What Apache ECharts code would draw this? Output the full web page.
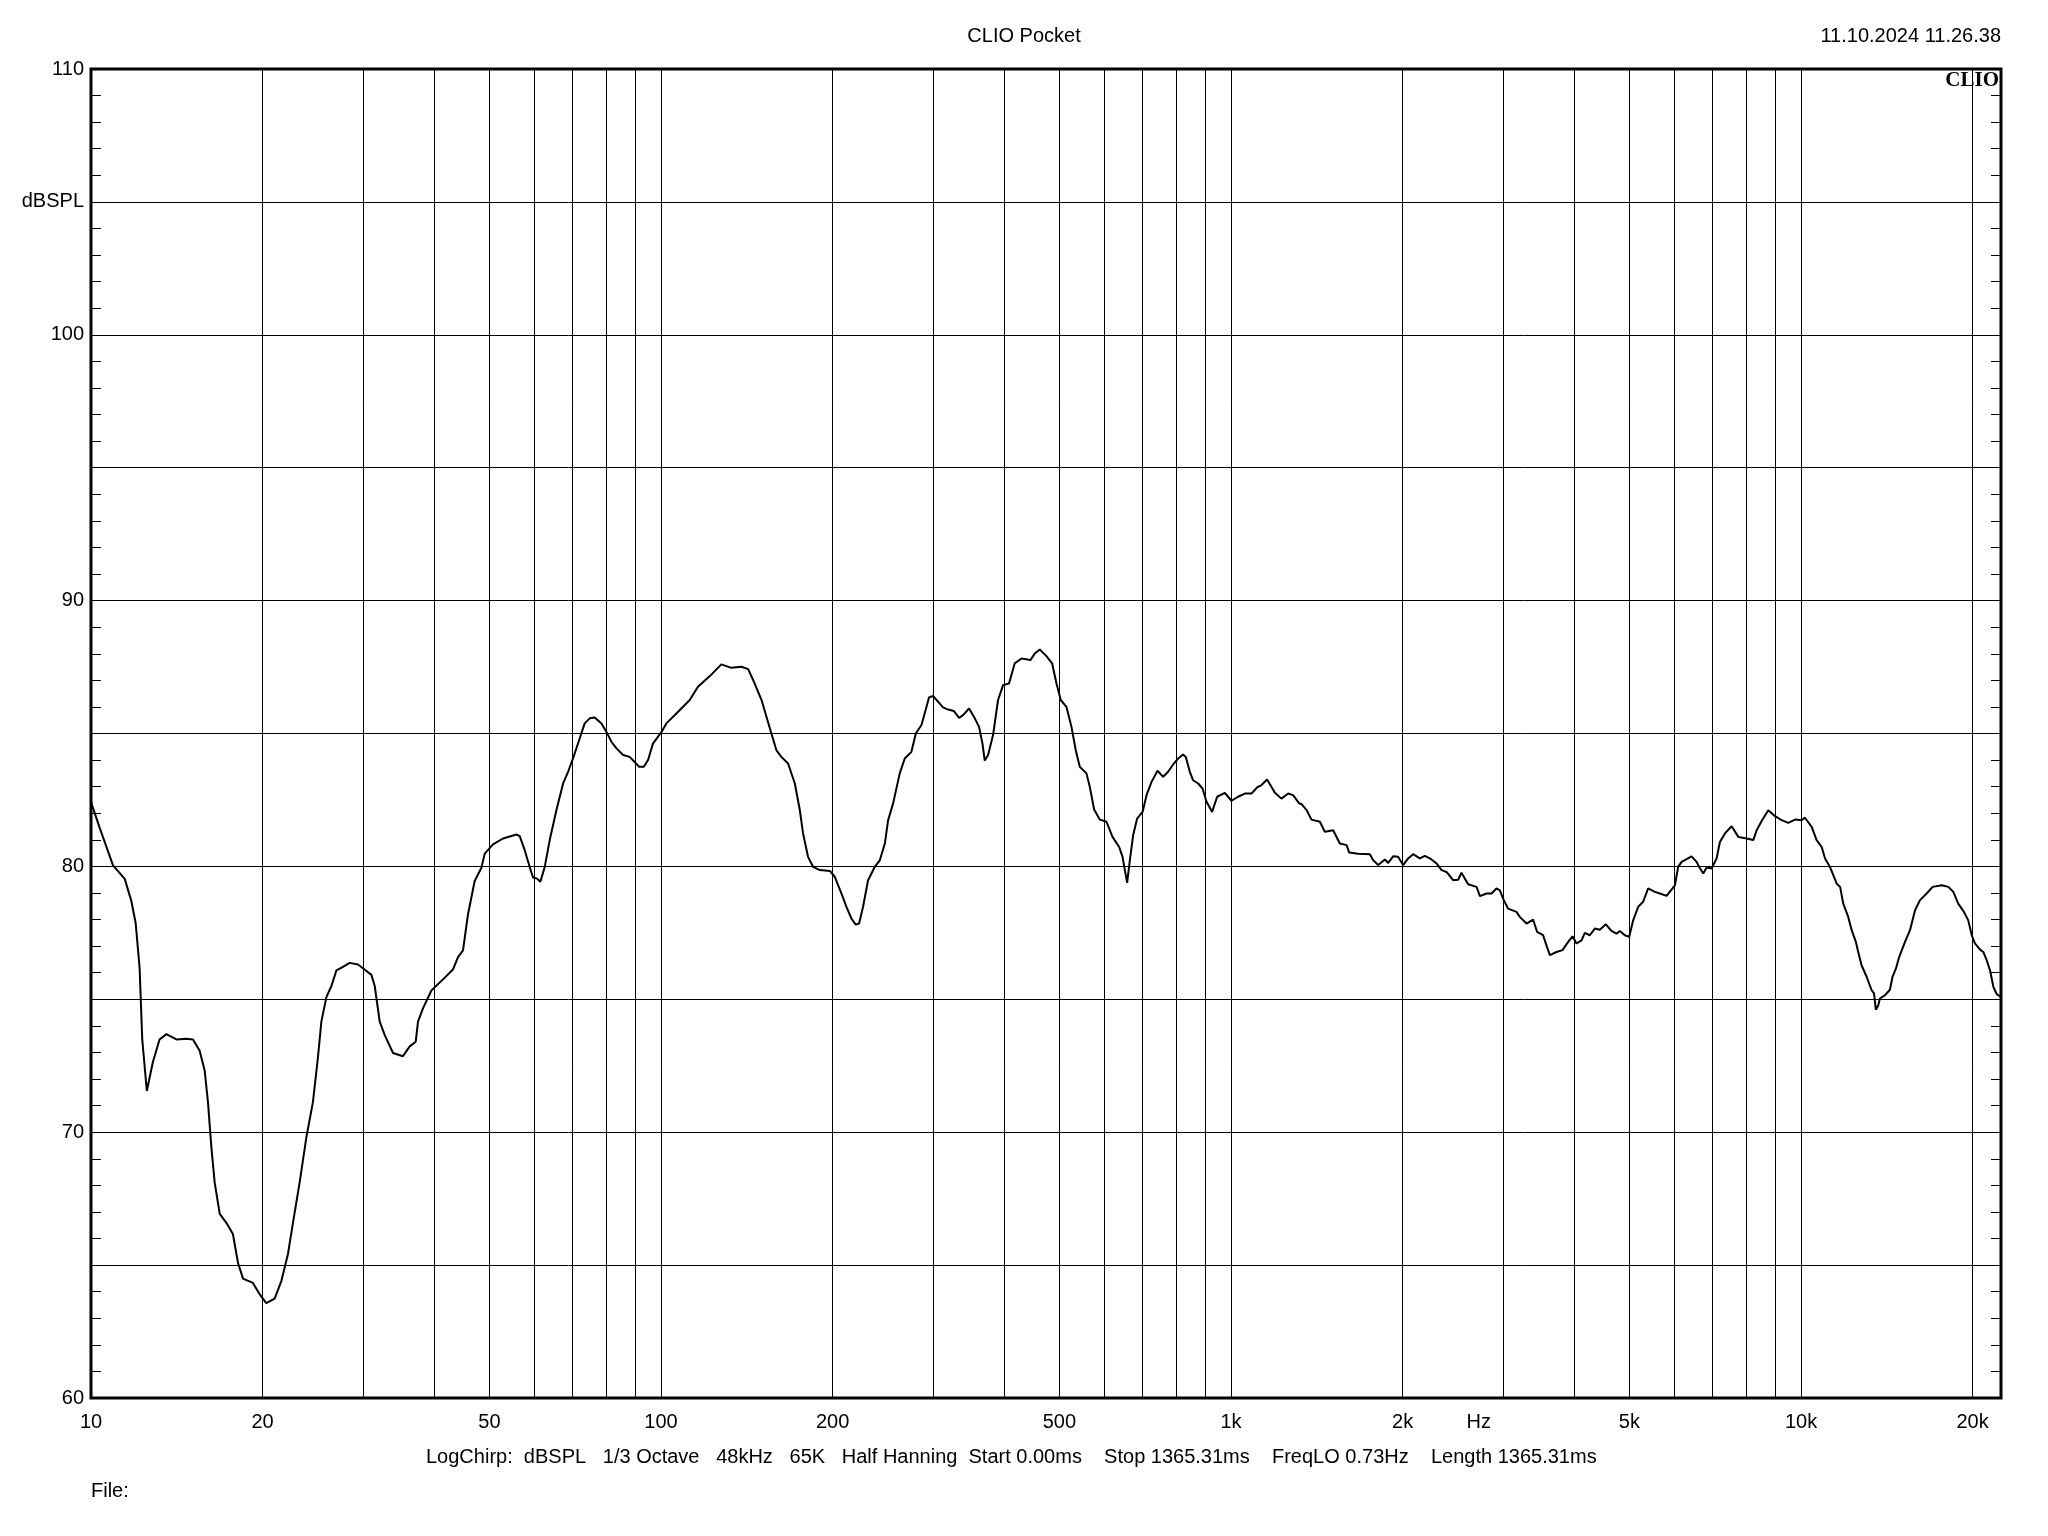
<!DOCTYPE html>
<html><head><meta charset="utf-8">
<script src="https://cdn.jsdelivr.net/npm/echarts@6/dist/echarts.min.js"></script>
<style>html,body{margin:0;padding:0;background:#fff}#c{width:2048px;height:1536px}</style>
</head><body><div id="c"></div>
<script>
const freqHz = [
10,10.35,10.93,11.46,11.77,11.98,12.17,12.30,12.53,12.84,13.19,13.56,14.12,14.70,15.10,15.51,15.83,16.04,16.26,16.48,16.82,17.28,17.74,18.11,18.48,19.23,19.76,20.30,21.00,21.58,22.16,22.61,23.23,23.86,24.51,25.01,25.36,25.88,26.41,26.95,27.67,28.43,29.40,30.00,31.04,31.46,32.10,32.76,33.87,35.26,36.24,37.12,37.47,38.23,39.55,41.45,43.15,44.04,44.94,45.85,47.11,48.41,
49.06,50.73,52.83,55.76,56.51,57.66,58.84,59.63,60.60,61.43,62.52,63.79,65.55,67.33,68.70,70.08,72.0,73.47,74.98,76.51,78.61,80.22,81.86,83.53,85.8,88.1,89.9,91.5,93.3,94.9,96.8,100.2,102.2,106.4,112.3,116.1,121.8,127.6,132.9,138.4,142.2,146.0,150.1,153.1,156.2,159.4,162.6,167.1,171.7,175.2,177.5,181.1,184.9,189.9,197.8,201.8,207.3,211.5,215.8,219.6,222.6,226.2,230.8,237.1,242.0,247.0,250.3,255.4,262.3,
267.7,275.0,279.9,286.4,292.2,295.3,300.1,312.5,318.9,326.3,333.4,338.8,347.1,355.2,361.4,366.4,369.8,374.8,382.4,390.2,398.2,407.9,417.4,428.9,437.7,444.8,452.6,461.8,474.5,485.4,494.1,502.7,514.4,524.9,534.1,542.8,557.7,565.2,575.2,588.6,604.7,619.6,636.4,645.2,651.3,657.3,664.5,673.4,684.4,699.5,710.9,725.4,743.1,760.2,775.7,793.7,807.7,824.1,833.2,846.7,858.1,875.6,891.3,905.8,926.5,945.5,975.2,1002,1029,1057,1086,1111,1131,1157,1194,1226,1260,1285,1317,
1330,1357,1384,1432,1461,1511,1552,1595,1612,1671,1752,1776,1812,1862,1887,1925,1964,2004,2045,2087,2144,2188,2248,2294,2341,2388,2453,2503,2537,2606,2696,2733,2807,2864,2922,2962,3010,3063,3168,3211,3299,3388,3443,3528,3576,3625,3724,3816,3904,3973,4037,4120,4176,4261,4348,4436,4546,4651,4746,4810,4908,4995,5076,5180,5285,5393,5541,5654,5809,6008,6088,6173,6427,6558,6627,
6737,6830,6969,7111,7206,7354,7555,7763,8028,8247,8359,8530,8761,9003,9247,9498,9758,10025,10160,10440,10650,10870,11020,11240,11550,11710,11860,12100,12270,12480,12600,12770,13040,13300,13430,13530,13660,13750,14030,14320,14470,14670,14870,15220,15530,15850,16170,16610,17020,17650,18130,18500,18870,19310,19650,19930,20190,20610,20880,21170,21450,21750,22050,22430
];
const splDb = [
82.42,81.47,80.04,79.53,78.70,77.85,76.17,73.49,71.55,72.64,73.49,73.69,73.49,73.52,73.49,73.06,72.31,71.13,69.45,68.11,66.93,66.59,66.17,65.08,64.49,64.33,63.91,63.57,63.74,64.41,65.42,66.59,68.11,69.79,71.13,72.81,74.16,75.08,75.50,76.09,76.22,76.37,76.31,76.17,75.92,75.50,74.16,73.65,72.98,72.86,73.23,73.40,74.16,74.66,75.33,75.75,76.12,76.59,76.84,78.19,79.45,79.95,
80.48,80.83,81.05,81.20,81.14,80.61,79.98,79.58,79.54,79.42,79.98,80.99,82.12,83.12,83.56,84.06,84.81,85.38,85.57,85.60,85.38,85.06,84.69,84.44,84.19,84.12,83.93,83.75,83.75,84.00,84.62,85.06,85.38,85.75,86.26,86.76,87.16,87.60,87.47,87.51,87.42,86.88,86.26,85.63,85.00,84.37,84.12,83.87,83.12,82.12,81.24,80.36,79.98,79.86,79.83,79.61,78.98,78.48,78.04,77.81,77.85,78.48,79.48,79.98,80.23,80.86,81.74,82.37,83.50,
84.06,84.31,85.00,85.32,86.00,86.36,86.41,85.98,85.90,85.85,85.59,85.69,85.94,85.57,85.25,84.62,83.98,84.19,84.94,86.26,86.82,86.88,87.64,87.82,87.79,87.76,88.01,88.16,87.91,87.64,86.88,86.26,86.00,85.25,84.37,83.75,83.50,83.00,82.14,81.76,81.68,81.11,80.73,80.36,79.86,79.38,80.23,81.17,81.80,82.05,82.68,83.18,83.60,83.37,83.56,83.87,84.06,84.21,84.12,83.56,83.24,83.12,82.93,82.43,82.05,82.62,82.77,82.47,82.62,82.74,82.74,82.97,83.06,83.27,82.77,82.55,82.74,82.68,82.37,
82.34,82.12,81.76,81.68,81.30,81.36,80.86,80.80,80.52,80.48,80.46,80.23,80.05,80.26,80.13,80.38,80.36,80.05,80.30,80.46,80.30,80.40,80.26,80.11,79.86,79.79,79.48,79.50,79.76,79.33,79.23,78.88,78.98,78.98,79.17,79.10,78.73,78.41,78.29,78.10,77.85,78.00,77.54,77.41,77.03,76.66,76.78,76.85,77.16,77.37,77.10,77.22,77.50,77.41,77.66,77.62,77.82,77.57,77.47,77.57,77.41,77.35,77.97,78.48,78.67,79.17,79.04,78.98,78.89,79.29,79.98,80.17,80.38,80.17,79.98,
79.73,79.96,79.92,80.30,80.92,81.24,81.51,81.11,81.05,80.99,81.36,81.71,82.11,81.89,81.74,81.64,81.76,81.74,81.83,81.49,80.99,80.73,80.30,79.98,79.35,79.23,78.60,78.10,77.60,77.16,76.78,76.28,75.84,75.34,75.22,74.61,74.77,75.03,75.15,75.36,75.84,76.15,76.60,77.16,77.60,78.35,78.73,78.98,79.23,79.29,79.23,79.04,78.60,78.29,77.97,77.41,77.10,76.87,76.78,76.47,76.10,75.47,75.19,75.09
];
const gridFreqs = [20,30,40,50,60,70,80,90,100,200,300,400,500,600,700,800,900,1000,2000,3000,4000,5000,6000,7000,8000,9000,10000,20000];
const xLabelFreqs = [10,20,50,100,200,500,1000,2000,2720,5000,10000,20000];
const xLabelTexts = ['10','20','50','100','200','500','1k','2k','Hz','5k','10k','20k'];
const yLabelValues = [60,70,80,90,100,105,110];
const yLabelTexts = ['60','70','80','90','100','dBSPL','110'];
const titleText = 'CLIO Pocket';
const dateText = '11.10.2024 11.26.38';
const captionText = 'LogChirp:  dBSPL   1/3 Octave   48kHz   65K   Half Hanning  Start 0.00ms    Stop 1365.31ms    FreqLO 0.73Hz    Length 1365.31ms';
const fileText = 'File:';

const FONT = 'Liberation Sans, Arial, sans-serif';
const chart = echarts.init(document.getElementById('c'), null, {renderer: 'canvas'});
const yFmt = v => { const i = yLabelValues.findIndex(x => Math.abs(x - v) < 1e-6); return i >= 0 ? yLabelTexts[i] : ''; };
const xFmt = v => { const i = xLabelFreqs.findIndex(x => Math.abs(v / x - 1) < 1e-4); return i >= 0 ? xLabelTexts[i] : ''; };

chart.setOption({
  animation: false,
  backgroundColor: '#fff',
  grid: {left: 91, right: 47, top: 69, bottom: 138, show: true, borderWidth: 3, borderColor: '#000', backgroundColor: 'transparent', containLabel: false},
  xAxis: {
    type: 'log', logBase: 10, min: 10, max: 22430,
    axisLine: {show: false},
    axisTick: {show: false, customValues: gridFreqs},
    axisLabel: {customValues: xLabelFreqs, formatter: xFmt, color: '#000', fontSize: 20, fontFamily: FONT, margin: 14, showMinLabel: true, showMaxLabel: true},
    splitLine: {show: true, lineStyle: {color: '#000', width: 1}},
    minorTick: {show: false}, minorSplitLine: {show: false}
  },
  yAxis: [{
    type: 'value', min: 60, max: 110, interval: 5, position: 'left',
    axisLine: {show: false},
    axisTick: {show: true, inside: true, length: 10, lineStyle: {color: '#000', width: 1}},
    minorTick: {show: true, splitNumber: 5, length: 10, lineStyle: {color: '#000', width: 1}},
    axisLabel: {formatter: yFmt, color: '#000', fontSize: 20, fontFamily: FONT, margin: 7},
    splitLine: {show: true, lineStyle: {color: '#000', width: 1}}
  }, {
    type: 'value', min: 60, max: 110, interval: 5, position: 'right',
    axisLine: {show: false},
    axisTick: {show: true, inside: true, length: 10, lineStyle: {color: '#000', width: 1}},
    minorTick: {show: true, splitNumber: 5, length: 10, lineStyle: {color: '#000', width: 1}},
    axisLabel: {show: false},
    splitLine: {show: false}
  }],
  series: [{
    type: 'line', xAxisIndex: 0, yAxisIndex: 0, showSymbol: false, symbol: 'none', smooth: false,
    lineStyle: {color: '#000', width: 2}, z: 5,
    data: freqHz.map((f, i) => [f, splDb[i]])
  }],
  graphic: [
    {type: 'text', left: 'center', top: 26, style: {text: titleText, fill: '#000', font: '20px ' + FONT}},
    {type: 'text', right: 47, top: 26, style: {text: dateText, fill: '#000', font: '20px ' + FONT}},
    {type: 'text', right: 49, top: 70, z: 10, style: {text: 'CLIO', fill: '#000', font: 'bold 21px "Liberation Serif", "Times New Roman", serif'}},
    {type: 'text', left: 426, top: 1447, style: {text: captionText, fill: '#000', font: '20px ' + FONT}},
    {type: 'text', left: 91, top: 1481, style: {text: fileText, fill: '#000', font: '20px ' + FONT}}
  ]
});
</script></body></html>
